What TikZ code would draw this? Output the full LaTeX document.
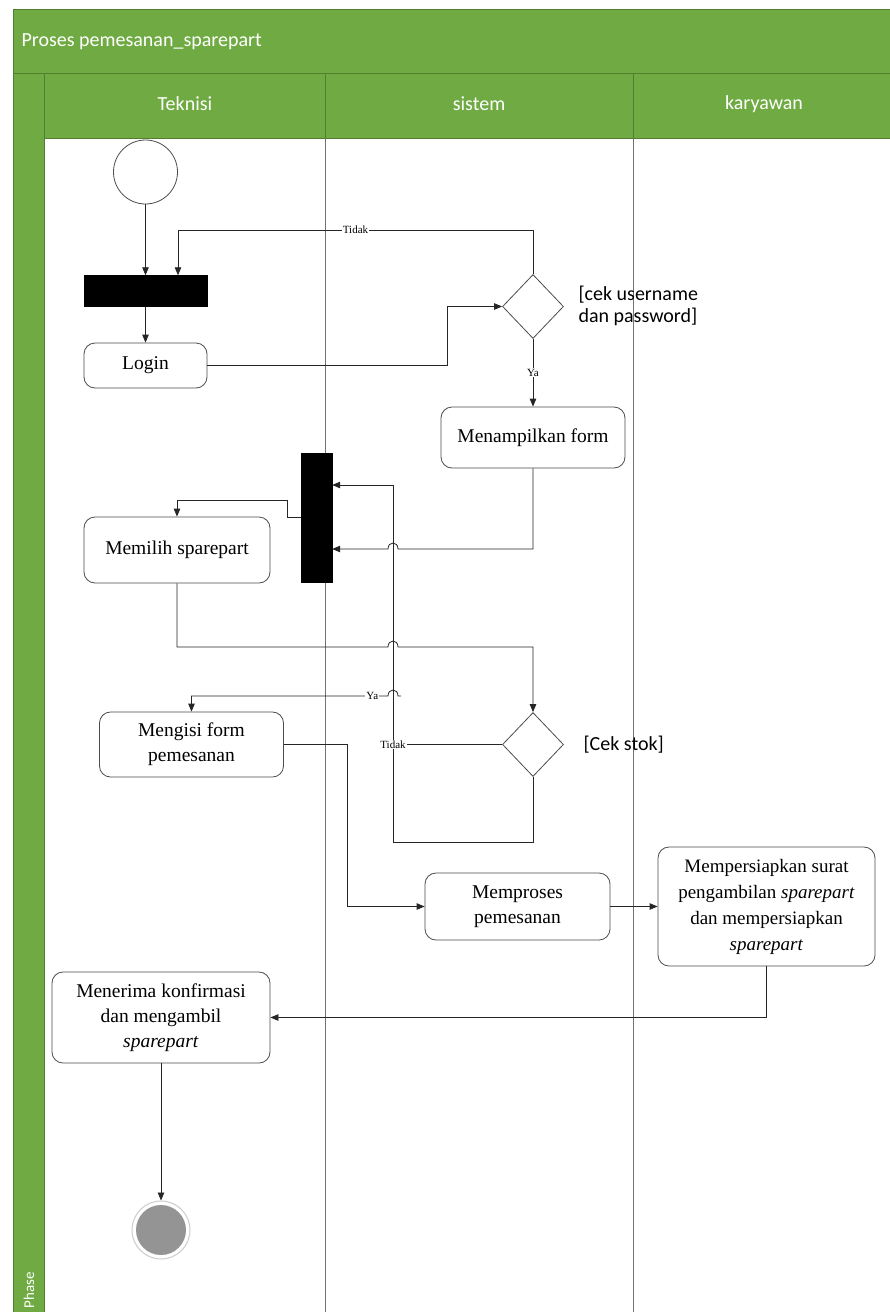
\documentclass[tikz,border=0pt]{standalone}
\usepackage{fontspec}
\setmainfont{Liberation Serif}
\newfontfamily\hdrfont{Carlito}
\usetikzlibrary{arrows.meta,shapes.geometric}
\definecolor{swgreen}{HTML}{6FAB42}
\definecolor{swdark}{HTML}{4F7F2F}
\begin{document}
\begin{tikzpicture}[x=1pt,y=-1pt,
  act/.style={draw=black!70, line width=0.8pt, rounded corners=11pt, fill=white, align=center,
              font=\fontsize{19.5}{25}\selectfont, inner sep=2pt},
  barnode/.style={fill=black, draw=black, inner sep=0pt},
  dec/.style={diamond, draw=black!70, line width=0.8pt, fill=white, minimum width=61pt,
              minimum height=64pt, inner sep=0pt},
  flow/.style={draw=black!85, line width=0.8pt},
  arr/.style={flow, -{Triangle[length=8pt,width=6.5pt]}},
  lbl/.style={fill=white, inner sep=1pt, font=\fontsize{11}{12}\selectfont},
  guard/.style={font=\hdrfont\fontsize{20}{22}\selectfont, align=left, anchor=west},
  hdr/.style={text=white, font=\hdrfont\fontsize{20}{22}\selectfont},
  lane/.style={draw=black!55, line width=0.8pt},
]
\useasboundingbox (0,0) rectangle (890,1312);
\fill[white] (0,0) rectangle (890,1312);
% swimlane frame
\fill[swgreen] (13,9) rectangle (890,138);
\fill[swgreen] (13,138) rectangle (44,1312);
\draw[swdark, line width=1pt] (13,1312) -- (13,9) -- (890,9);
\draw[swdark, line width=0.8pt] (13,73) -- (890,73);
\draw[swdark, line width=0.8pt] (44,73) -- (44,1312);
\draw[swdark, line width=0.8pt] (44,138) -- (890,138);
\draw[swdark, line width=0.8pt] (325,73) -- (325,138);
\draw[swdark, line width=0.8pt] (633,73) -- (633,138);
\draw[lane] (325,138) -- (325,1312);
\draw[lane] (633,138) -- (633,1312);
\node[hdr, anchor=west] (title) at (18,42) {Proses pemesanan\_sparepart};
\node[hdr] (lane1) at (185,104) {Teknisi};
\node[hdr] (lane2) at (479,104) {sistem};
\node[hdr] (lane3) at (764,104) {karyawan};
\node[text=white, font=\hdrfont\fontsize{15}{16}\selectfont, rotate=90, anchor=west] (phase) at (29,1312) {Phase};

% nodes
\node[circle, draw=black!70, line width=0.8pt, fill=white, minimum size=64pt, inner sep=0pt] (init) at (145.5,172) {};
\node[barnode, minimum width=123pt, minimum height=31pt] (bar1) at (145.5,291) {};
\node[act, minimum width=123pt, minimum height=45pt] (login) at (145.5,365.5) {Login};
\node[dec] (d1) at (533,306.5) {};
\node[guard] (g1) at (575,306) {[cek username\\dan password]};
\node[act, minimum width=184pt, minimum height=61pt] (menam) at (533,437.5) {Menampilkan form};
\node[barnode, minimum width=31pt, minimum height=129pt] (bar2) at (316.5,517.5) {};
\node[act, minimum width=186pt, minimum height=66pt] (memilih) at (177,550) {Memilih sparepart};
\node[dec] (d2) at (533,744.5) {};
\node[guard] (g2) at (580,744.5) {[Cek stok]};
\node[act, minimum width=184pt, minimum height=65pt] (mengisi) at (191.5,744.5) {Mengisi form\\pemesanan};
\node[act, minimum width=185pt, minimum height=67pt] (memproses) at (517.5,906.5) {Memproses\\pemesanan};
\node[act, minimum width=217pt, minimum height=119pt, font=\fontsize{19}{26}\selectfont] (mempers) at (766.5,906.5)
  {Mempersiapkan surat\\pengambilan \textit{sparepart}\\dan mempersiapkan\\\textit{sparepart}};
\node[act, minimum width=218pt, minimum height=91pt] (menerima) at (161,1017.5)
  {Menerima konfirmasi\\dan mengambil\\\textit{sparepart}};
\node[circle, draw=black!20, line width=1pt, fill=white, minimum size=58pt, inner sep=0pt] (final) at (161,1230) {};
\node[circle, fill=black!42, minimum size=50pt, inner sep=0pt] (finalin) at (final.center) {};

% helper coordinates
\coordinate (tk) at (178,230);
\coordinate (lg) at (447,306.5);
\coordinate (h1) at (393,549);
\coordinate (h2) at (393,647);
\coordinate (h3) at (393,696);
\coordinate (ya0) at (401,696);
\coordinate (lp1) at (393,842);
\coordinate (lp2) at (393,485);
\coordinate (st) at (287,500);
\coordinate (mg) at (347,744.5);

% connectors
\draw[arr] (init.south) -- (init.south |- bar1.north);
\draw[arr] (d1.north) |- node[lbl, pos=0.75]{Tidak} (tk) -- (tk |- bar1.north);
\draw[arr] (bar1.south) -- (login.north);
\draw[arr] (login.east) -| (lg) -- (d1.west);
\draw[arr] (d1.south) -- node[lbl]{Ya} (menam.north);
\draw[arr] (menam.south) |- ([xshift=5pt]h1) .. controls ([xshift=5pt,yshift=8pt]h1) and ([xshift=-5pt,yshift=8pt]h1) .. ([xshift=-5pt]h1) -- (bar2.east |- h1);
\draw[arr] (d2.south) |- (lp1) -- (lp2) -- (bar2.east |- lp2);
\draw[arr] (bar2.west |- bar2.center) -- (st |- bar2.center) -- (st) -| (memilih.north);
\draw[arr] (memilih.south) |- ([xshift=-5pt]h2) .. controls ([xshift=-5pt,yshift=8pt]h2) and ([xshift=5pt,yshift=8pt]h2) .. ([xshift=5pt]h2) -| (d2.north);
\draw[flow] (d2.west) -- node[lbl, pos=1]{Tidak} (d2.west -| lp1);
\draw[arr] (ya0) -- ([xshift=5pt]h3) .. controls ([xshift=5pt,yshift=8pt]h3) and ([xshift=-5pt,yshift=8pt]h3) .. ([xshift=-5pt]h3) -- node[lbl, pos=0.08]{Ya} (mengisi.north |- h3) -- (mengisi.north);
\draw[arr] (mengisi.east) -- (mg) |- (memproses.west);
\draw[arr] (memproses.east) -- (mempers.west);
\draw[arr] (mempers.south) |- (menerima.east);
\draw[arr] (menerima.south) -- (final.north);
\end{tikzpicture}
\end{document}
